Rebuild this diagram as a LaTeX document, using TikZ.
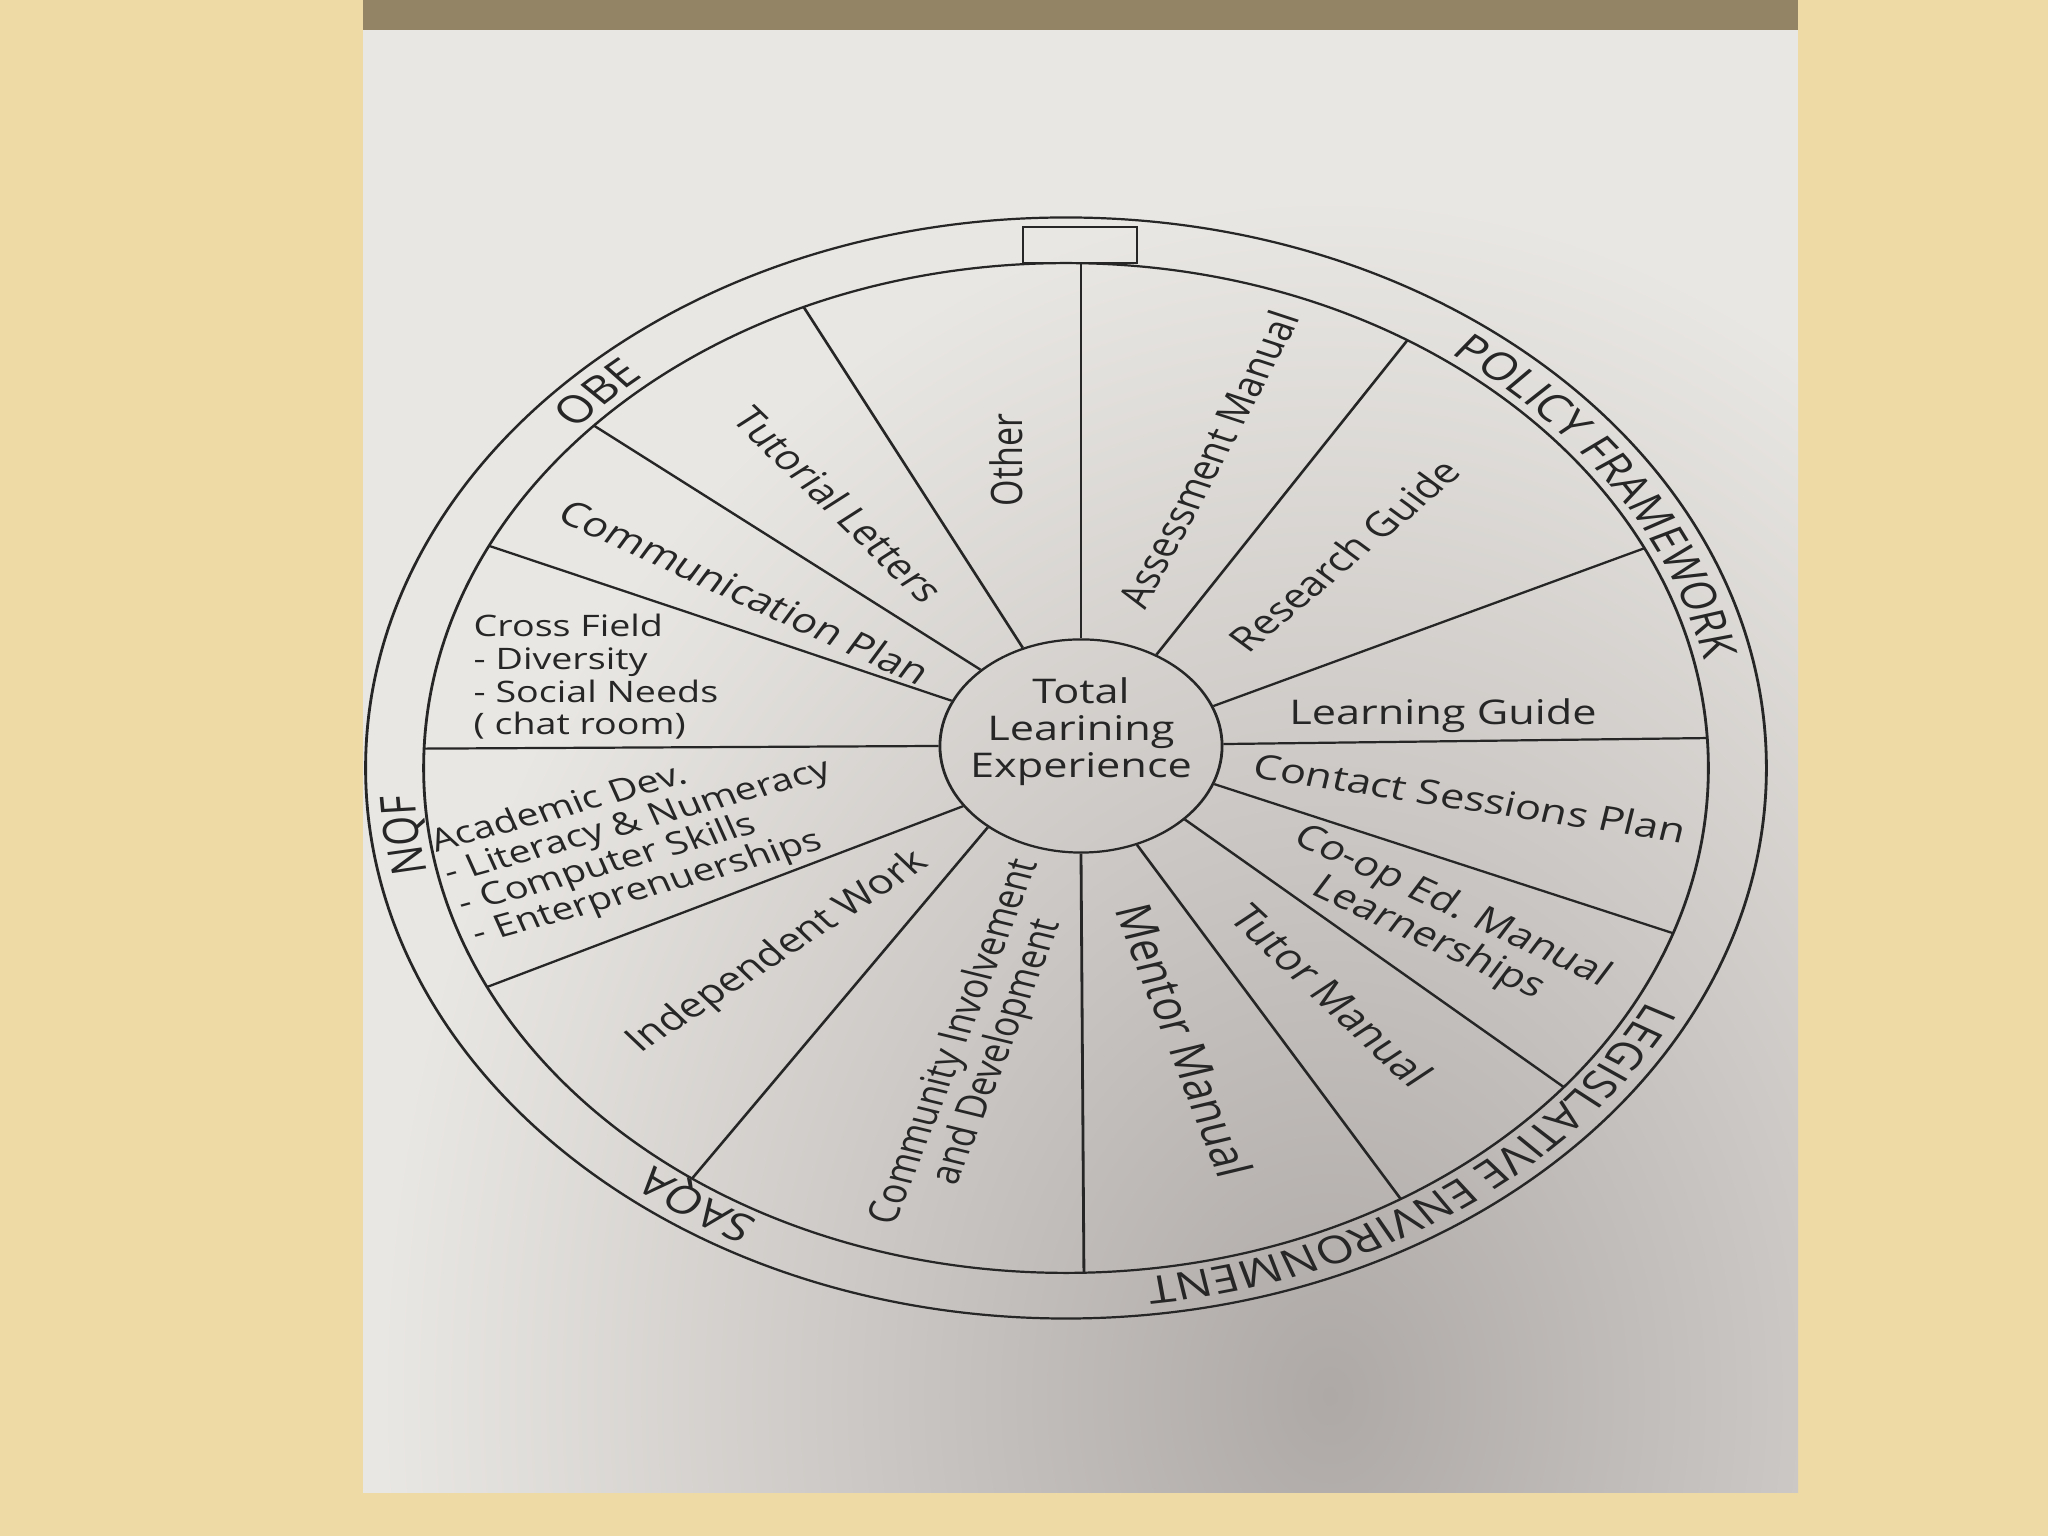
\documentclass[tikz,border=0pt]{standalone}
\usepackage{fontspec}
\setmainfont{Open Sans}
\usepackage{xcolor}
\usepackage{tikz}
\usetikzlibrary{shapes.geometric, decorations.text}

\definecolor{deskbeige}{RGB}{238,218,165}
\definecolor{tablewood}{RGB}{146,132,100}
\definecolor{sheet}{RGB}{233,231,227}
\definecolor{sheetshade}{RGB}{174,169,167}
\definecolor{ink}{RGB}{38,38,38}

\newcommand{\ringfont}{\fontsize{13.8}{16}\selectfont\color{ink}}

\tikzset{
  font=\fontsize{12.3}{13.4}\selectfont,  % slice labels
  every node/.style  = {text=ink},
  rim/.style         = {draw=ink, line width=0.8pt},
  spoke/.style       = {draw=ink, line width=0.8pt},
  hubnode/.style     = {ellipse, draw=ink, line width=0.8pt, inner sep=0pt,
                        minimum width=2.82cm, minimum height=2.71cm},
  tagbox/.style      = {rectangle, draw=ink, line width=0.8pt, inner sep=0pt,
                        minimum width=1.14cm, minimum height=0.46cm},
  slice/.style       = {inner sep=0pt, align=center},
  listing/.style     = {inner sep=0pt, align=left,
                        font=\fontsize{10.7}{11.8}\selectfont},
  ringlabel/.style   = {decorate, decoration={text along path, text align=center,
                        text={|\ringfont|#1}}}
}

\begin{document}
\begin{tikzpicture}[x=0.01cm, y=0.01cm]
  % desk, table edge and the sheet
  \fill[deskbeige] (0,0) rectangle (2048,1536);
  \useasboundingbox (0,0) rectangle (2048,1536);
  \fill[tablewood] (363,1505) rectangle (1798,1536);
  \fill[sheet] (363,43) rectangle (1798,1506);
  \begin{scope}
    \clip (363,43) rectangle (1798,1506);
    \shade[inner color=sheetshade, outer color=sheet] (1330,140) ellipse [x radius=9.5cm, y radius=12cm];
  \end{scope}

  % wheel, drawn round and squashed like the photo
  \begin{scope}[transform canvas={shift={(1066,768)}, yscale=0.786}]
    \draw[rim] (0,0) circle [radius=7cm];
    \draw[rim] (0,0) circle [radius=6.42cm];
    \node[tagbox] (topbox) at (14,665) {};
    \node[hubnode] (hub) at (15,28) {};
    \draw[spoke] (hub.north) -- (hub.north |- topbox.south);
    % hub angle / rim angle
    \foreach \h/\r [count=\k] in {57.6/57.9, 21.2/25.8, 1.6/3.4, 340/-19.1,
        318.9/-39.2, 294.3/-58.6, 270/-88.4, 228.7/-125.6, 213.3/205.7,
        180/177.8, 156.7/153.9, 136.8/137.3, 115.5/114.1}{
      \coordinate (rim\k) at (\r:6.42cm);
      \draw[spoke] (hub.\h) -- (rim\k);
    }

    % words round the ring
    \path[ringlabel=OBE] (154.5:6.52cm) arc[start angle=154.5, end angle=114.5, radius=6.52cm];
    \path[ringlabel=POLICY FRAMEWORK] (73:6.52cm) arc[start angle=73, end angle=-7, radius=6.52cm];
    \path[ringlabel=LEGISLATIVE ENVIRONMENT] (-10:6.52cm) arc[start angle=-10, end angle=-100, radius=6.52cm];
    \path[ringlabel=SAQA] (-103.6:6.52cm) arc[start angle=-103.6, end angle=-143.6, radius=6.52cm];
    \path[ringlabel=NQF] (207.4:6.52cm) arc[start angle=207.4, end angle=167.4, radius=6.52cm];

    % slice labels
    \node[slice] (hublabel) at (15,46) {Total\\Learining\\Experience};
    \node[slice, rotate=90] (other) at (-60,392) {Other};
    \node[slice, rotate=-50.9] (tutorial) at (-227,335) {Tutorial Letters};
    \node[slice, rotate=-30.2] (commplan) at (-321,224) {Communication Plan};
    \node[slice, rotate=67.3] (assess) at (142,393) {Assessment Manual};
    \node[slice, rotate=46.9] (research) at (278,271) {Research Guide};
    \node[slice] (learnguide) at (377,66) {Learning Guide};
    \node[slice, rotate=-10.9] (contact) at (404,-38) {Contact Sessions Plan};
    \node[slice, rotate=-30.7] (coop) at (374,-197) {Co-op Ed. Manual\\Learnerships};
    \node[slice, rotate=-49.9, font=\fontsize{13}{14}\selectfont] (tutor) at (266,-289) {Tutor Manual};
    \node[slice, rotate=-73, font=\fontsize{14.2}{15}\selectfont] (mentor) at (119,-347) {Mentor Manual};
    \node[slice, rotate=72.8, font=\fontsize{12}{12.5}\selectfont] (community) at (-89,-355) {Community Involvement\\and Development};
    \node[slice, rotate=39.6] (independent) at (-288,-235) {Independent Work};
    \node[listing, rotate=19.4, font=\fontsize{11.3}{11.8}\selectfont] (academic) at (-421,-89)
      {Academic Dev.\\- Literacy \& Numeracy\\- Computer Skills\\- Enterprenuerships};
    \node[listing, anchor=west] (crossfield) at (-593,116)
      {Cross Field\\- Diversity\\- Social Needs\\( chat room)};
  \end{scope}
\end{tikzpicture}
\end{document}
